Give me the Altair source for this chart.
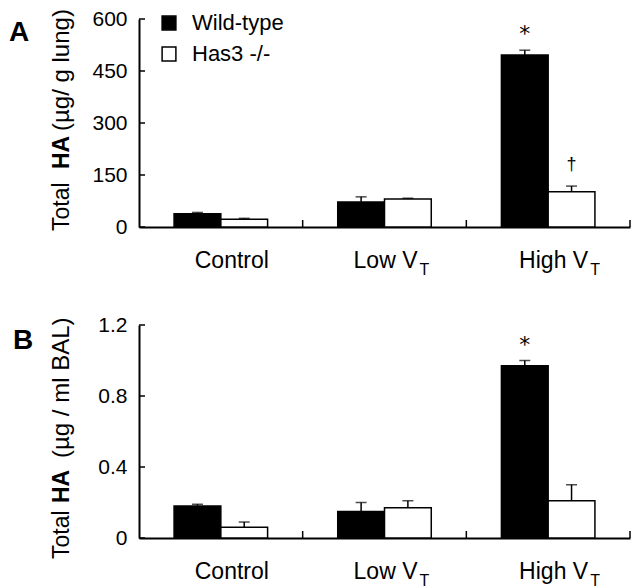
import altair as alt
import pandas as pd

FONT = "Liberation Sans"

categories = ["Control", "Low VT", "High VT"]
groups = ["Wild-type", "Has3 -/-"]

# Panel A: Total HA (ug / g lung)
a_wt = [38, 72, 496]
a_wt_err = [4, 15, 14]
a_ko = [22, 81, 102]
a_ko_err = [3, 2, 16]
a_wt_sig = ["", "", "*"]
a_ko_sig = ["", "", "†"]
a_ticks = [0, 150, 300, 450, 600]
a_title = ["Total", "HA", "(µg/ g lung)"]

# Panel B: Total HA (ug / ml BAL)
b_wt = [0.18, 0.15, 0.97]
b_wt_err = [0.01, 0.05, 0.03]
b_ko = [0.06, 0.17, 0.21]
b_ko_err = [0.03, 0.04, 0.09]
b_wt_sig = ["", "", "*"]
b_ko_sig = ["", "", ""]
b_ticks = [0, 0.4, 0.8, 1.2]
b_title = ["Total", "HA", "(µg / ml BAL)"]

label_main = ["Control", "Low V", "High V"]
label_sub = ["", "T", "T"]


def panel(wt, wt_err, ko, ko_err, wt_sig, ko_sig, ticks, ymax, title_parts, title_pos,
          title_sizes, letter, label_expr, H, letter_x, letter_y, legend_y, W=491):
    rows = []
    for i, c in enumerate(categories):
        rows.append(dict(cat=c, grp=groups[0], val=wt[i], up=wt[i] + wt_err[i], sig=wt_sig[i]))
        rows.append(dict(cat=c, grp=groups[1], val=ko[i], up=ko[i] + ko_err[i], sig=ko_sig[i]))
    df = pd.DataFrame(rows)

    xaxis = alt.Axis(labels=False, ticks=False, title=None, domainColor="black",
                     domainWidth=2, grid=False)
    xscale = alt.Scale(domain=categories, paddingInner=0, paddingOuter=0)
    yaxis = alt.Axis(values=ticks, ticks=False, grid=False, labelFontSize=21,
                     labelFont=FONT, labelColor="black", labelPadding=12,
                     domainColor="black", domainWidth=2, title=None,
                     labelExpr=label_expr)
    yscale = alt.Scale(domain=[0, ymax], nice=False, zero=True)

    def X(**kw):
        return alt.X("cat:N", sort=categories, scale=xscale, axis=xaxis, **kw)

    def Y(field):
        return alt.Y(field, scale=yscale, axis=yaxis, title=None)

    xo = alt.XOffset("grp:N", sort=groups,
                     scale=alt.Scale(domain=groups, paddingInner=0, paddingOuter=0.75))

    fill = alt.Fill("grp:N", sort=groups,
                    scale=alt.Scale(domain=groups, range=["black", "white"]),
                    legend=alt.Legend(title=None, orient="none", legendX=19, legendY=legend_y,
                                      symbolType="square", symbolSize=190,
                                      symbolStrokeColor="black", symbolStrokeWidth=1.5,
                                      labelFontSize=22, labelFont=FONT, labelColor="black",
                                      labelOffset=12, rowPadding=9, padding=0))

    bars = alt.Chart(df).mark_bar(stroke="black", strokeWidth=1.5).encode(
        x=X(), xOffset=xo, y=Y("val:Q"), fill=fill)

    err = alt.Chart(df).mark_rule(color="black", strokeWidth=1.5).encode(
        x=X(), xOffset=xo, y=Y("val:Q"), y2="up:Q")

    caps = alt.Chart(df).mark_tick(color="black", thickness=1.5, size=11).encode(
        x=X(), xOffset=xo, y=Y("up:Q"))

    star = alt.Chart(df).transform_filter("datum.sig == '*'").mark_text(
        font="DejaVu Sans", fontSize=22, baseline="middle", dy=-16, color="black").encode(
        x=X(), xOffset=xo, y=Y("up:Q"), text="sig:N")

    dagger = alt.Chart(df).transform_filter("datum.sig == '†'").mark_text(
        font=FONT, fontSize=18, baseline="middle", dy=-21, color="black").encode(
        x=X(), xOffset=xo, y=Y("up:Q"), text="sig:N")

    tick_df = pd.DataFrame({"t": ticks})
    yticks = alt.Chart(tick_df).mark_rule(color="black", strokeWidth=1.5).encode(
        y=Y("t:Q"), x=alt.value(0), x2=alt.value(6))

    cat_df = pd.DataFrame({"cat": categories, "main": label_main, "sub": label_sub})
    xticks = alt.Chart(cat_df).mark_rule(color="black", strokeWidth=1.5).encode(
        x=X(bandPosition=1), y=alt.value(H), y2=alt.value(H - 7))

    label_layers = []
    main_dx = {"Control": (11, "center"), "Low VT": (33, "right"), "High VT": (40, "right")}
    for c in categories:
        dx, al = main_dx[c]
        sub = cat_df[cat_df["cat"] == c]
        label_layers.append(
            alt.Chart(sub).mark_text(font=FONT, fontSize=23, align=al, baseline="alphabetic",
                                     dx=dx, color="black").encode(
                x=X(), y=alt.value(H + 41), text="main:N"))
        if sub["sub"].iloc[0]:
            label_layers.append(
                alt.Chart(sub).mark_text(font=FONT, fontSize=16, align="left",
                                         baseline="alphabetic", dx=dx + 2,
                                         color="black").encode(
                    x=X(), y=alt.value(H + 48), text="sub:N"))

    # rotated y title in three runs, the middle one bold
    title_layers = []
    for part, ypos, size, weight in zip(title_parts, title_pos, title_sizes,
                                        ["normal", "bold", "normal"]):
        title_layers.append(
            alt.Chart(pd.DataFrame({"t": [part]})).mark_text(
                font=FONT, fontSize=size, fontWeight=weight, angle=270, align="left",
                baseline="alphabetic", color="black").encode(
                text="t:N", x=alt.value(-70), y=alt.value(ypos)))

    letter_chart = alt.Chart(pd.DataFrame({"l": [letter]})).mark_text(
        font=FONT, fontSize=28, fontWeight="bold", align="center", baseline="middle",
        color="black").encode(text="l:N", x=alt.value(letter_x), y=alt.value(letter_y))

    return alt.layer(bars, err, caps, star, dagger, yticks, xticks, *label_layers,
                     *title_layers, letter_chart).properties(width=W, height=H)


pA = panel(a_wt, a_wt_err, a_ko, a_ko_err, a_wt_sig, a_ko_sig, a_ticks, 600,
           a_title, [212, 150, 112], [23, 23, 24], "A", "format(datum.value, 'd')", 208,
           -120, 14, -7)
pB = panel(b_wt, b_wt_err, b_ko, b_ko_err, b_wt_sig, b_ko_sig, b_ticks, 1.2,
           b_title, [234, 178, 133], [23, 23, 24], "B",
           "datum.value == 0 ? '0' : format(datum.value, '.1f')", 213,
           -116, 16, -4)

chart = alt.vconcat(pA, pB, spacing=36).configure_view(stroke=None).properties(
    padding={"left": 0, "top": 0, "right": 0, "bottom": 0})

chart.save("out.html", embed_options={"renderer": "svg", "actions": False})
